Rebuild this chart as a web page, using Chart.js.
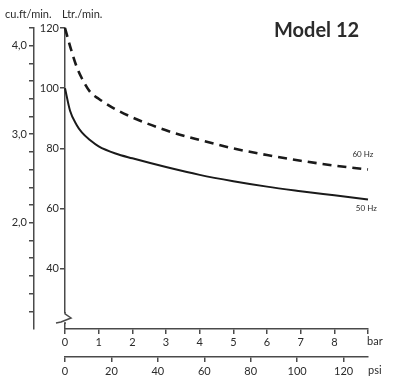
<!DOCTYPE html>
<html lang="en">
<head>
    <meta charset="UTF-8">
    <title>Model 12</title>
    <script src="https://cdn.jsdelivr.net/npm/chart.js"></script>
    <style>
        body { margin: 0; background: #fff; }
        .chart-container { width: 411px; height: 392px; position: relative; }
    </style>
</head>
<body>
    <div class="chart-container">
        <canvas id="pumpChart"></canvas>
    </div>

    <script>
        // pressure in bar
        const pressureBar = [0, 0.15, 0.35, 0.5, 0.75, 1, 1.5, 2, 3, 4, 5, 6, 7, 8, 9];
        // flow in Ltr./min.
        const flow60Hz = [120, 114, 107, 103.3, 98.7, 96.5, 93, 90.3, 86, 82.8, 80, 77.8, 75.9, 74.3, 73];
        const flow50Hz = [100, 92.5, 87.7, 85.3, 82.7, 80.7, 78.3, 76.7, 73.8, 71.2, 69.1, 67.3, 65.8, 64.4, 63];

        const barTicks = [0, 1, 2, 3, 4, 5, 6, 7, 8];
        const psiTicks = [0, 20, 40, 60, 80, 100, 120];
        const ltrTicks = [40, 60, 80, 100, 120];
        const cuftTicks = [2, 3, 4];

        const axisColor = '#4a4a4a';
        const textColor = '#2b2b2b';
        const font = 'Lato, "DejaVu Sans", sans-serif';
        const PSI_PER_BAR = 14.5;

        // texts and the axis break
        const extras = {
            id: 'extras',
            afterDraw(chart) {
                const c = chart.ctx;
                const x = chart.scales.x, y = chart.scales.y, x2 = chart.scales.x2;
                c.save();
                c.fillStyle = textColor;
                c.textBaseline = 'middle';

                c.font = '11px ' + font;
                c.textAlign = 'left';
                c.fillText('cu.ft/min.', 5, 14);
                c.fillText('Ltr./min.', 62, 14);

                c.font = 'bold 20px ' + font;
                c.fillText('Model 12', 274, 31);

                c.font = '8px ' + font;
                c.textAlign = 'center';
                c.fillText('60 Hz', x.getPixelForValue(8.85), y.getPixelForValue(78));
                c.fillText('50 Hz', x.getPixelForValue(8.95), y.getPixelForValue(60));

                c.font = '11px ' + font;
                c.textAlign = 'left';
                c.fillText('bar', x.getPixelForValue(9) - 1, x.top + 12);
                c.fillText('psi', x2.right, x2.top + 13);

                // break on the Ltr axis
                const bx = y.left + y.width;
                const by = y.getPixelForValue(23);
                c.fillStyle = '#fff';
                c.fillRect(bx - 2, by - 7, 4, 10);
                c.strokeStyle = axisColor;
                c.lineWidth = 1.5;
                c.beginPath();
                c.moveTo(bx, by - 8);
                c.lineTo(bx, by - 6);
                c.lineTo(bx + 6, by - 2);
                c.lineTo(bx - 4, by + 2);
                c.lineTo(bx - 9, by + 3);
                c.moveTo(bx, by + 2);
                c.lineTo(bx, by + 4);
                c.stroke();
                c.restore();
            }
        };

        function axisGrid(hidden) {
            return {
                drawOnChartArea: false,
                drawTicks: true,
                tickLength: 5,
                lineWidth: 1.5,
                color: ctx => (ctx.tick && hidden(ctx.tick.value)) ? 'rgba(0,0,0,0)' : axisColor
            };
        }

        new Chart(document.getElementById('pumpChart'), {
            type: 'line',
            data: {
                datasets: [
                    {
                        label: '60 Hz',
                        data: pressureBar.map((p, i) => ({ x: p, y: flow60Hz[i] })),
                        borderColor: '#1a1a1a',
                        borderWidth: 2.6,
                        borderDash: [9, 6],
                        pointRadius: 0,
                        cubicInterpolationMode: 'monotone',
                        clip: false
                    },
                    {
                        label: '50 Hz',
                        data: pressureBar.map((p, i) => ({ x: p, y: flow50Hz[i] })),
                        borderColor: '#1a1a1a',
                        borderWidth: 2,
                        pointRadius: 0,
                        cubicInterpolationMode: 'monotone',
                        clip: false
                    }
                ]
            },
            options: {
                responsive: true,
                maintainAspectRatio: false,
                animation: false,
                layout: { padding: { top: 28, right: 43, left: 0, bottom: 0 } },
                plugins: { legend: { display: false }, tooltip: { enabled: false } },
                scales: {
                    x: {
                        type: 'linear',
                        position: 'bottom',
                        weight: 0,
                        min: 0, max: 9,
                        afterBuildTicks: s => { s.ticks = barTicks.concat([9]).map(v => ({ value: v })); },
                        afterFit: s => { s.height = 28; },
                        border: { display: true, color: axisColor, width: 1.5 },
                        grid: axisGrid(() => false),
                        ticks: {
                            padding: 2,
                            color: textColor,
                            font: { family: font, size: 11 },
                            maxRotation: 0,
                            callback: v => barTicks.includes(v) ? String(v) : ''
                        }
                    },
                    x2: {
                        type: 'linear',
                        position: 'bottom',
                        weight: 1,
                        min: 0, max: 9 * PSI_PER_BAR,
                        afterBuildTicks: s => { s.ticks = psiTicks.map(v => ({ value: v })); },
                        afterFit: s => { s.height = 35; },
                        border: { display: true, color: axisColor, width: 1.5 },
                        grid: axisGrid(() => false),
                        ticks: {
                            padding: 3,
                            color: textColor,
                            font: { family: font, size: 11 },
                            maxRotation: 0
                        }
                    },
                    y: {
                        type: 'linear',
                        position: 'left',
                        weight: 0,
                        min: 20, max: 120,
                        afterBuildTicks: s => { s.ticks = ltrTicks.map(v => ({ value: v })); },
                        afterFit: s => { s.width = 31; },
                        border: { display: true, color: axisColor, width: 1.5 },
                        grid: axisGrid(() => false),
                        ticks: {
                            padding: 1,
                            color: textColor,
                            font: { family: font, size: 11 }
                        }
                    },
                    y2: {
                        type: 'linear',
                        position: 'left',
                        weight: 1,
                        min: 0.8, max: 4.2,
                        afterBuildTicks: s => {
                            const t = [];
                            for (let i = 5; i <= 21; i++) t.push({ value: i / 5 });
                            s.ticks = t;
                        },
                        afterFit: s => { s.width = 34; },
                        border: { display: true, color: axisColor, width: 1.5 },
                        grid: axisGrid(v => Math.abs(v - 0.8) < 1e-6),
                        ticks: {
                            padding: 2,
                            color: textColor,
                            font: { family: font, size: 11 },
                            autoSkip: false,
                            callback: v => cuftTicks.some(c => Math.abs(c - v) < 1e-6) ? Math.round(v) + ',0' : ''
                        }
                    }
                }
            },
            plugins: [extras]
        });
    </script>
</body>
</html>
